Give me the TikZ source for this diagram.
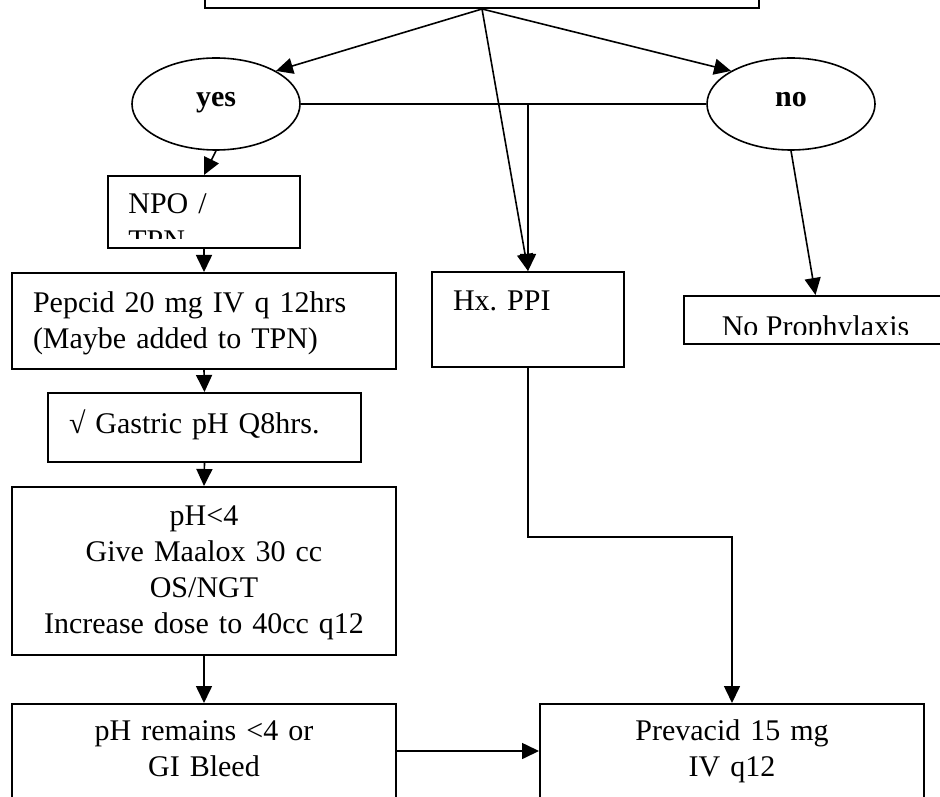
\documentclass[tikz,border=0pt]{standalone}
\usepackage{fontspec}
\setmainfont{Liberation Serif}
\usetikzlibrary{arrows.meta,shapes.geometric}
\frenchspacing

\begin{document}
\begin{tikzpicture}[x = 0.5pt, y = -0.5pt,
	every node/.style = {font = \fontsize{15pt}{18pt}\selectfont, inner sep = 0pt},
	box/.style = {draw, line width = 1pt, inner xsep = 10.5pt, inner ysep = 0pt},
	oval/.style = {draw, ellipse, line width = 0.8pt, minimum width = 84pt, minimum height = 46pt, text height = 7pt, text depth = 4pt, font = \fontsize{15pt}{18pt}\selectfont\bfseries},
	arr/.style = {line width = 0.8pt, -{Triangle[length = 8.5pt, width = 8pt]}}]
		\useasboundingbox (0,0) rectangle (940,796);
		\clip (0,0) rectangle (940,796);
		
		\node[box, minimum width = 277pt, minimum height = 30pt] at (482,-22) (Top) {};
		\node[oval] at (216,104) (Yes) {yes};
		\node[oval] at (791,104) (No) {no};
		
		\node[box, minimum width = 96pt, minimum height = 36pt] at (204,212) (NPO) {};
		\begin{scope}
			\clip (NPO.north west) rectangle ([yshift = 5pt]NPO.south east);
			\node[anchor = base west, text width = 80pt, align = left] at (128,214) (NPOtext) {NPO /\\TPN};
		\end{scope}
		\node[box, text width = 171pt, align = left, text height = 19.5pt, text depth = 28.5pt] at (204,321) (Pepcid) {Pepcid 20 mg IV q 12hrs\\(Maybe added to TPN)};
		\node[box, text width = 135.5pt, align = left, text height = 20pt, text depth = 14.5pt] at (204.5,427.5) (Gastric) {√ Gastric pH Q8hrs.};
		\node[box, text width = 171pt, align = center, text height = 19pt, text depth = 65pt] at (204,571) (Maalox) {pH<4\\Give Maalox 30 cc\\OS/NGT\\Increase dose to 40cc q12};
		\node[box, text width = 171pt, align = center, text height = 18pt, text depth = 29pt] at (204,751) (Bleed) {pH remains <4 or\\GI Bleed};
		
		\node[box, text width = 75pt, align = left, text height = 19pt, text depth = 28.5pt] at (528,319.5) (Hx) {Hx. PPI};
		\node[box, text width = 171pt, align = center, text height = 18pt, text depth = 29pt] at (732,751) (Prevacid) {Prevacid 15 mg\\IV q12};
		
		\node[box, minimum width = 131.5pt, minimum height = 24pt] at (815.5,320) (NoPro) {};
		\begin{scope}
			\clip (NoPro.north west) rectangle ([yshift = 5.5pt]NoPro.south east);
			\node[anchor = base] at (815.5,336) (NoProtext) {No Prophylaxis};
		\end{scope}
		
		\draw[arr] (Top.south) -- (Yes.north east);
		\draw[arr] (Top.south) -- (No.north west);
		\draw[arr] (Top.south) -- (Hx.north);
		\draw[line width = 0.8pt] (Yes.east) -- (No.west);
		\draw[arr] (Yes.east -| Hx.north) -- (Hx.north);
		\draw[arr] (Yes.south) -- (NPO.north);
		\draw[arr] (No.south) -- (NoPro.north);
		\draw[arr] (NPO.south) -- (Pepcid.north);
		\draw[arr] (Pepcid.south) -- (Gastric.north);
		\draw[arr] (Gastric.south) -- (Maalox.north);
		\draw[arr] (Maalox.south) -- (Bleed.north);
		\draw[arr] (Bleed.east) -- (Prevacid.west);
		\draw[arr] (Hx.south) -- ++(0,169) -| (Prevacid.north);
		\end{tikzpicture}
\end{document}
